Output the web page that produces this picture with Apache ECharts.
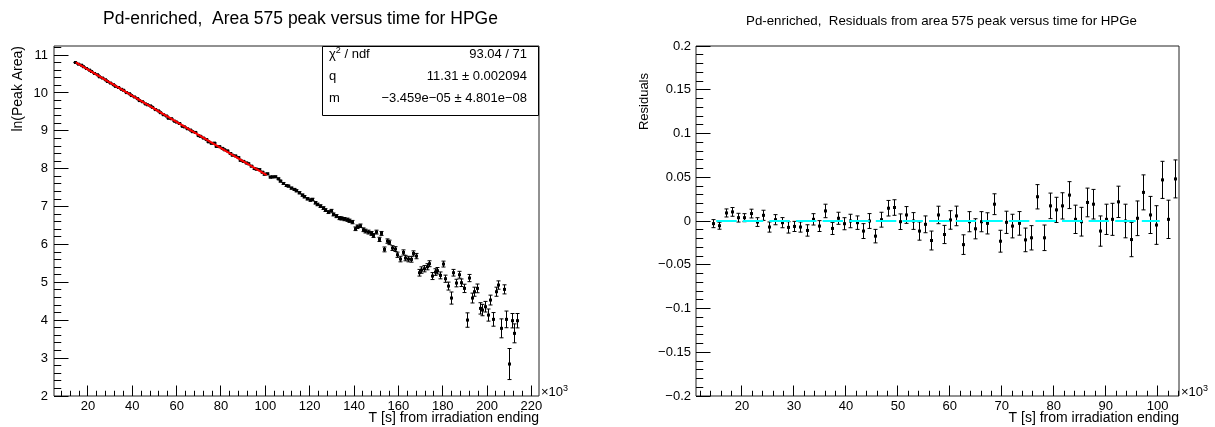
<!DOCTYPE html>
<html><head><meta charset="utf-8"><title>HPGe Pd-enriched</title>
<script src="https://cdn.jsdelivr.net/npm/echarts@6/dist/echarts.min.js"></script>
<style>html,body{margin:0;padding:0;background:#fff;}#chart{width:1215px;height:427px;}</style>
</head><body><div id="chart"></div>
<script>
// ---------------- data (time in units of 10^3 s) ----------------
const timeK = [
14.54,15.74,16.94,18.14,19.34,20.54,21.74,22.94,24.14,25.34,
26.54,27.74,28.94,30.14,31.34,32.54,33.74,34.94,36.14,37.34,
38.54,39.74,40.94,42.14,43.34,44.54,45.74,46.94,48.14,49.34,
50.54,51.74,52.94,54.14,55.34,56.54,57.74,58.94,60.14,61.34,
62.54,63.74,64.94,66.14,67.34,68.54,69.74,70.94,72.14,73.34,
74.54,75.74,76.94,78.14,79.34,80.54,81.74,82.94,84.14,85.34,
86.54,87.74,88.94,90.14,91.34,92.54,93.74,94.94,96.14,97.34,
98.54,99.74,100.94,102.14,103.34,104.54,105.74,106.94,108.14,109.34,
110.54,111.74,112.94,114.14,115.34,116.54,117.74,118.94,120.14,121.34,
122.54,123.74,124.94,126.14,127.34,128.54,129.74,130.94,132.14,133.34,
134.54,135.74,136.94,138.14,139.34,140.54,141.74,142.94,144.14,145.34,
146.54,147.74,148.94,150.14,151.34,152.54,153.74,154.94,156.14,157.34,
158.54,159.74,160.94,162.14,163.34,164.54,165.74,166.94,168.14,169.34,
170.54,171.74,172.94,174.14,175.34,176.54,177.74,178.94,180.14,181.34,
182.54,183.74,184.94,186.14,187.34,188.54,189.74,190.94,192.14,193.34,
194.54,195.74,196.94,198.14,199.34,200.54,201.74,202.94,204.14,205.34,
206.54,207.74,208.94,210.14,211.34,212.54,213.74];

const lnArea = [
10.804,10.760,10.733,10.693,10.645,10.603,10.567,10.515,10.482,10.427,
10.394,10.349,10.302,10.261,10.219,10.174,10.145,10.096,10.071,10.010,
9.980,9.932,9.894,9.851,9.799,9.769,9.711,9.688,9.659,9.619,
9.561,9.527,9.479,9.426,9.392,9.332,9.320,9.256,9.231,9.194,
9.120,9.104,9.055,9.021,8.978,8.958,8.875,8.855,8.809,8.770,
8.710,8.671,8.676,8.588,8.583,8.537,8.500,8.471,8.401,8.357,
8.338,8.294,8.222,8.194,8.152,8.131,8.068,8.005,7.988,7.976,
7.908,7.855,7.865,7.779,7.784,
7.787,7.734,7.673,7.611,7.558,7.541,7.488,7.453,7.418,7.365,
7.303,7.260,7.207,7.172,7.189,7.101,7.057,7.013,6.961,6.908,
6.855,6.890,6.793,6.749,6.697,6.688,6.670,6.653,6.626,6.591,
6.415,6.468,6.494,6.389,6.354,6.327,6.292,6.239,6.327,6.134,
6.292,5.870,6.090,6.055,5.905,5.879,5.729,5.615,5.791,5.641,
5.615,5.606,5.764,5.694,5.254,5.325,5.360,5.412,5.492,5.166,
5.272,5.307,5.184,5.483,5.096,4.902,4.586,5.254,4.982,5.201,
4.990,4.841,4.005,5.114,4.586,4.753,4.841,4.313,4.269,4.357,
4.137,4.533,4.023,4.753,4.929,3.786,4.815,4.023,2.844,3.988,
3.654,3.988];

const lnAreaErr = [
0.0046,0.0040,0.0046,0.0050,0.0050,0.0046,0.0050,0.0050,0.0058,0.0058,
0.0058,0.0058,0.0065,0.0058,0.0058,0.0065,0.0065,0.0062,0.0077,0.0069,
0.0069,0.0069,0.0077,0.0077,0.0085,0.0085,0.0077,0.0085,0.0089,0.0089,
0.0089,0.0096,0.0096,0.0104,0.0096,0.0108,0.0100,0.0104,0.0106,0.0112,
0.0112,0.0115,0.0115,0.0115,0.0121,0.0119,0.0125,0.0127,0.0135,0.0135,
0.0135,0.0139,0.0139,0.0146,0.0146,0.0144,0.0150,0.0154,0.0162,0.0164,
0.0164,0.0169,0.0173,0.0173,0.0183,0.0179,0.0192,0.0196,0.0198,0.0200,
0.0212,0.0221,0.0212,0.0219,0.0217,
0.022,0.022,0.023,0.024,0.025,0.025,0.026,0.027,0.027,0.028,
0.029,0.030,0.031,0.031,0.031,0.033,0.034,0.035,0.036,0.037,
0.038,0.037,0.039,0.040,0.041,0.042,0.042,0.043,0.043,0.044,
0.048,0.047,0.046,0.049,0.050,0.051,0.052,0.053,0.051,0.056,
0.052,0.064,0.058,0.059,0.063,0.064,0.069,0.073,0.067,0.072,
0.073,0.073,0.068,0.070,0.088,0.085,0.083,0.081,0.078,0.092,
0.087,0.085,0.091,0.078,0.095,0.105,0.160,0.088,0.100,0.090,
0.100,0.110,0.190,0.095,0.130,0.120,0.115,0.150,0.150,0.140,
0.160,0.130,0.180,0.120,0.110,0.250,0.120,0.220,0.410,0.190,
0.250,0.190];

const residuals = [
-0.0030,-0.0054,0.0092,0.0104,0.0038,0.0038,0.0085,-0.0012,0.0065,-0.0069,
0.0015,-0.0019,-0.0073,-0.0062,-0.0069,-0.0108,0.0019,-0.0058,0.0115,-0.0085,
0.0031,-0.0031,0.0000,-0.0019,-0.0115,0.0000,-0.0173,0.0015,0.0146,0.0154,
-0.0008,0.0069,0.0000,-0.0115,-0.0038,-0.0223,0.0069,-0.0154,0.0012,0.0058,
-0.0270,-0.0008,-0.0089,-0.0008,-0.0027,0.0192,-0.0231,-0.0015,-0.0058,-0.0027,
-0.0216,-0.0192,0.0277,-0.0192,0.0173,0.0127,0.0173,0.0296,0.0019,-0.0008,
0.0212,0.0192,-0.0115,0.0019,0.0019,0.0219,0.0000,-0.0212,0.0031,0.0327,
0.0069,-0.0046,0.0470,0.0019,0.0481];

const residualErr = [
0.0046,0.0040,0.0046,0.0050,0.0050,0.0046,0.0050,0.0050,0.0058,0.0058,
0.0058,0.0058,0.0065,0.0058,0.0058,0.0065,0.0065,0.0062,0.0077,0.0069,
0.0069,0.0069,0.0077,0.0077,0.0085,0.0085,0.0077,0.0085,0.0089,0.0089,
0.0089,0.0096,0.0096,0.0104,0.0096,0.0108,0.0100,0.0104,0.0106,0.0112,
0.0112,0.0115,0.0115,0.0115,0.0121,0.0119,0.0125,0.0127,0.0135,0.0135,
0.0135,0.0139,0.0139,0.0146,0.0146,0.0144,0.0150,0.0154,0.0162,0.0164,
0.0164,0.0169,0.0173,0.0173,0.0183,0.0179,0.0192,0.0196,0.0198,0.0200,
0.0212,0.0221,0.0212,0.0219,0.0217];

// linear fit  ln(A) = q + m * t[s]
const fitQ = 11.31;
const fitM = -3.459e-05;
const fitRangeK = [14.54, 100.6];
const zeroLineRangeK = [14.54, 100.4];
const statsLabels = ['ndf', 'q', 'm'];
const statsValues = ['93.04 / 71', '11.31 \u00b1 0.002094', '\u22123.459e\u221205 \u00b1 4.801e\u221208'];

// axis ticks
const leftXTicks = [20,40,60,80,100,120,140,160,180,200,220];
const leftXLabels = ['20','40','60','80','100','120','140','160','180','200','220'];
const leftYTicks = [2,3,4,5,6,7,8,9,10,11];
const leftYLabels = ['2','3','4','5','6','7','8','9','10','11'];
const rightXTicks = [20,30,40,50,60,70,80,90,100];
const rightXLabels = ['20','30','40','50','60','70','80','90','100'];
const rightYTicks = [-0.2,-0.15,-0.1,-0.05,0,0.05,0.1,0.15,0.2];
const rightYLabels = ['\u22120.2','\u22120.15','\u22120.1','\u22120.05','0','0.05','0.1','0.15','0.2'];

// ---------------- layout ----------------
const FONT = '"Liberation Sans", Arial, Helvetica, sans-serif';
const LX = [4.7, 223.4], LY = [2, 11.24];
const RX = [11.15, 104.1], RY = [-0.2, 0.2];

function crisp(v) { return Math.round(v - 0.5) + 0.5; }

function errItem(params, api) {
  const x = api.value(0), y = api.value(1), e = api.value(2);
  const c = api.coord([x, y]), t = api.coord([x, y + e]), b = api.coord([x, y - e]);
  const cx = crisp(c[0]);
  const s = {stroke: '#000', lineWidth: 1};
  return {type: 'group', children: [
    {type: 'line', shape: {x1: cx, y1: t[1], x2: cx, y2: b[1]}, style: s},
    {type: 'line', shape: {x1: cx - 2, y1: t[1], x2: cx + 2, y2: t[1]}, style: s},
    {type: 'line', shape: {x1: cx - 2, y1: b[1], x2: cx + 2, y2: b[1]}, style: s},
    {type: 'rect', shape: {x: cx - 1.5, y: c[1] - 1.5, width: 3, height: 3}, style: {fill: '#000'}}
  ]};
}

function axisDecor(gi, xr, yr, xT, xL, xStep, yT, yL, yStep, yLabelGap) {
  return {
    type: 'custom', xAxisIndex: gi, yAxisIndex: gi, silent: true, z: 10, clip: false,
    data: [[xr[0], yr[0]]],
    renderItem: function (params, api) {
      const ch = [];
      const s = {stroke: '#000', lineWidth: 1};
      const o = api.coord([xr[0], yr[0]]);
      const by = o[1], lx = o[0];
      const xLen = 10.5, yLen = 14.5;
      const isMaj = (arr, v, eps) => arr.some(t => Math.abs(t - v) < eps);
      let n0 = Math.ceil(xr[0] / xStep - 1e-6), n1 = Math.floor(xr[1] / xStep + 1e-6);
      for (let n = n0; n <= n1; n++) {
        const v = n * xStep;
        const px = crisp(api.coord([v, yr[0]])[0]);
        const len = isMaj(xT, v, xStep / 10) ? xLen : xLen / 2;
        ch.push({type: 'line', shape: {x1: px, y1: by, x2: px, y2: by - len}, style: s});
      }
      xT.forEach((v, k) => {
        const px = api.coord([v, yr[0]])[0];
        ch.push({type: 'text', x: px, y: by + 10, style: {text: xL[k], fontSize: 13, fontFamily: FONT, fill: '#000', align: 'center', verticalAlign: 'middle'}});
      });
      n0 = Math.ceil(yr[0] / yStep - 1e-6); n1 = Math.floor(yr[1] / yStep + 1e-6);
      for (let n = n0; n <= n1; n++) {
        const v = n * yStep;
        const py = crisp(api.coord([xr[0], v])[1]);
        const len = isMaj(yT, v, yStep / 10) ? yLen : yLen / 2;
        ch.push({type: 'line', shape: {x1: lx, y1: py, x2: lx + len, y2: py}, style: s});
      }
      yT.forEach((v, k) => {
        const py = api.coord([xr[0], v])[1];
        ch.push({type: 'text', x: lx - yLabelGap, y: py, style: {text: yL[k], fontSize: 13, fontFamily: FONT, fill: '#000', align: 'right', verticalAlign: 'middle'}});
      });
      return {type: 'group', children: ch};
    }
  };
}

const leftData = timeK.map((t, i) => [t, lnArea[i], lnAreaErr[i]]);
const resData = residuals.map((r, i) => [timeK[i], r, residualErr[i]]);

const txt = (x, y, text, size, align, extra) => Object.assign({
  type: 'text', x: x, y: y, silent: true, z: 100,
  style: {text: text, fontSize: size, fontFamily: FONT, fill: '#000', align: align || 'left', verticalAlign: 'middle'}
}, extra || {});

const chart = echarts.init(document.getElementById('chart'), null, {renderer: 'canvas'});
chart.setOption({
  backgroundColor: '#fff',
  animation: false,
  grid: [
    {left: 54, top: 46, width: 485, height: 350, show: true, borderColor: '#222', borderWidth: 1, backgroundColor: 'transparent'},
    {left: 696, top: 46, width: 483, height: 350, show: true, borderColor: '#222', borderWidth: 1, backgroundColor: 'transparent'}
  ],
  xAxis: [
    {type: 'value', gridIndex: 0, min: LX[0], max: LX[1], show: false},
    {type: 'value', gridIndex: 1, min: RX[0], max: RX[1], show: false}
  ],
  yAxis: [
    {type: 'value', gridIndex: 0, min: LY[0], max: LY[1], show: false},
    {type: 'value', gridIndex: 1, min: RY[0], max: RY[1], show: false}
  ],
  series: [
    {type: 'custom', name: 'ln(Peak Area)', xAxisIndex: 0, yAxisIndex: 0, data: leftData, encode: {x: 0, y: 1}, renderItem: errItem, z: 3, silent: true},
    {type: 'line', name: 'fit', xAxisIndex: 0, yAxisIndex: 0, data: fitRangeK.map(t => [t, fitQ + fitM * t * 1000]),
      symbol: 'none', lineStyle: {color: '#ff0000', width: 2}, z: 5, silent: true},
    {type: 'custom', name: 'Residuals', xAxisIndex: 1, yAxisIndex: 1, data: resData, encode: {x: 0, y: 1}, renderItem: errItem, z: 3, silent: true},
    {type: 'line', name: 'zero', xAxisIndex: 1, yAxisIndex: 1, data: zeroLineRangeK.map(t => [t, 0]),
      symbol: 'none', lineStyle: {color: '#00ffff', width: 2, type: [20.5, 6.1], dashOffset: 24}, z: 5, silent: true},
    axisDecor(0, LX, LY, leftXTicks, leftXLabels, 4, leftYTicks, leftYLabels, 0.2, 6),
    axisDecor(1, RX, RY, rightXTicks, rightXLabels, 2, rightYTicks, rightYLabels, 0.01, 5)
  ],
  graphic: [
    txt(300.5, 19, 'Pd-enriched,  Area 575 peak versus time for HPGe', 17.5, 'center'),
    txt(941.5, 21, 'Pd-enriched,  Residuals from area 575 peak versus time for HPGe', 13.3, 'center'),
    txt(539, 418, 'T [s] from irradiation ending', 14, 'right'),
    txt(1179, 418, 'T [s] from irradiation ending', 14, 'right'),
    txt(18, 46, 'ln(Peak Area)', 14, 'right', {rotation: Math.PI / 2}),
    txt(644, 73, 'Residuals', 13, 'right', {rotation: Math.PI / 2}),
    {type: 'text', x: 541, y: 392, silent: true, z: 100, style: {text: '{a|\u00d710}{s|3}', verticalAlign: 'middle', align: 'left',
      rich: {a: {fontSize: 13, lineHeight: 16, fontFamily: FONT, fill: '#000'}, s: {fontSize: 9, fontFamily: FONT, fill: '#000', verticalAlign: 'top'}}}},
    {type: 'text', x: 1181, y: 392, silent: true, z: 100, style: {text: '{a|\u00d710}{s|3}', verticalAlign: 'middle', align: 'left',
      rich: {a: {fontSize: 13, lineHeight: 16, fontFamily: FONT, fill: '#000'}, s: {fontSize: 9, fontFamily: FONT, fill: '#000', verticalAlign: 'top'}}}},
    {type: 'rect', silent: true, z: 99, shape: {x: 322.5, y: 46.5, width: 216, height: 69}, style: {fill: '#fff', stroke: '#000', lineWidth: 1}},
    {type: 'text', x: 329, y: 54, silent: true, z: 100, style: {text: '{a|\u03c7}{s|2}{a| / ' + statsLabels[0] + '}', verticalAlign: 'middle', align: 'left',
      rich: {a: {fontSize: 13, lineHeight: 16, fontFamily: FONT, fill: '#000'}, s: {fontSize: 9, fontFamily: FONT, fill: '#000', verticalAlign: 'top'}}}},
    txt(329, 76, statsLabels[1], 13, 'left'),
    txt(329, 98, statsLabels[2], 13, 'left'),
    txt(527, 54, statsValues[0], 13, 'right'),
    txt(527, 76, statsValues[1], 13, 'right'),
    txt(527, 98, statsValues[2], 13, 'right')
  ]
});
</script>
</body></html>
